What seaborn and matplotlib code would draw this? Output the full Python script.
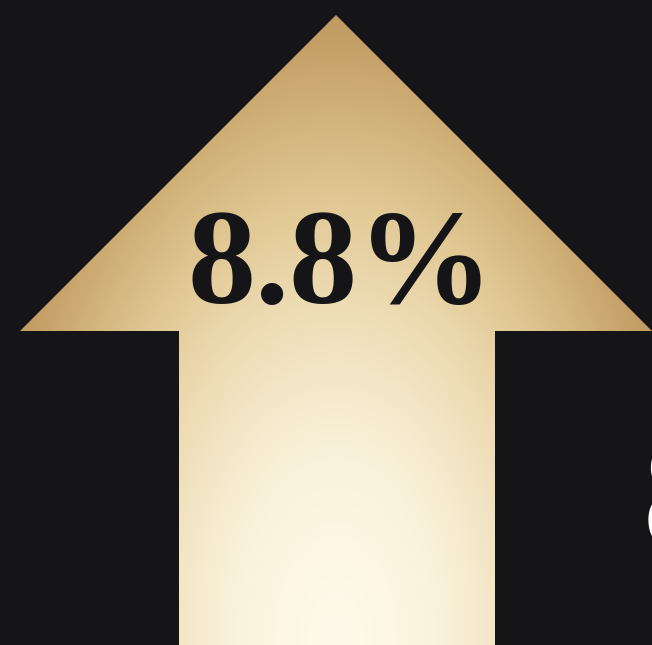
import numpy as np
import seaborn as sns
import matplotlib.pyplot as plt
from matplotlib.patches import Polygon

# canvas and arrow outline (pixel units, y grows downward)
W, H = 652, 645
arrow_x = [336, 652, 495, 495, 179, 179, 20]
arrow_y = [15, 331, 331, 645, 645, 331, 331]
label = "8.8%"
side_label = "8"

bg = "#151517"
gold_stops = ["#fefae9", "#f9f0d8", "#efdfb9", "#e3cb98", "#d2b37a", "#c19b62", "#b2874f"]

sns.set_theme(style="white")
plt.rcParams["font.family"] = ["Liberation Serif", "DejaVu Serif"]

fig = plt.figure(figsize=(W / 100, H / 100), dpi=100, facecolor=bg)
ax = fig.add_axes([0, 0, 1, 1])
ax.set_facecolor(bg)
ax.set_xlim(0, W)
ax.set_ylim(H, 0)
ax.axis("off")

# radial (elliptical) gradient centred at the bottom of the shaft
cmap = sns.blend_palette(gold_stops, as_cmap=True)
xx, yy = np.meshgrid(np.arange(W) + 0.5, np.arange(H) + 0.5)
r = np.sqrt(((xx - 336) * 1.7) ** 2 + (yy - 640) ** 2) / 700
img = ax.imshow(np.clip(r, 0, 1) ** 1.4, cmap=cmap, vmin=0, vmax=1,
                extent=[0, W, H, 0], interpolation="bilinear")
shape = Polygon(np.column_stack([arrow_x, arrow_y]), closed=True,
                facecolor="none", edgecolor="none")
ax.add_patch(shape)
img.set_clip_path(shape)

ax.text(341, 303, label, ha="center", va="baseline", fontsize=98,
        fontweight="bold", family="Liberation Serif", color="#151517")
ax.text(643, 548, side_label, ha="left", va="baseline", fontsize=117,
        fontweight="bold", family="Liberation Serif", color="white")

fig.savefig("out.png", dpi=100, facecolor=bg)
